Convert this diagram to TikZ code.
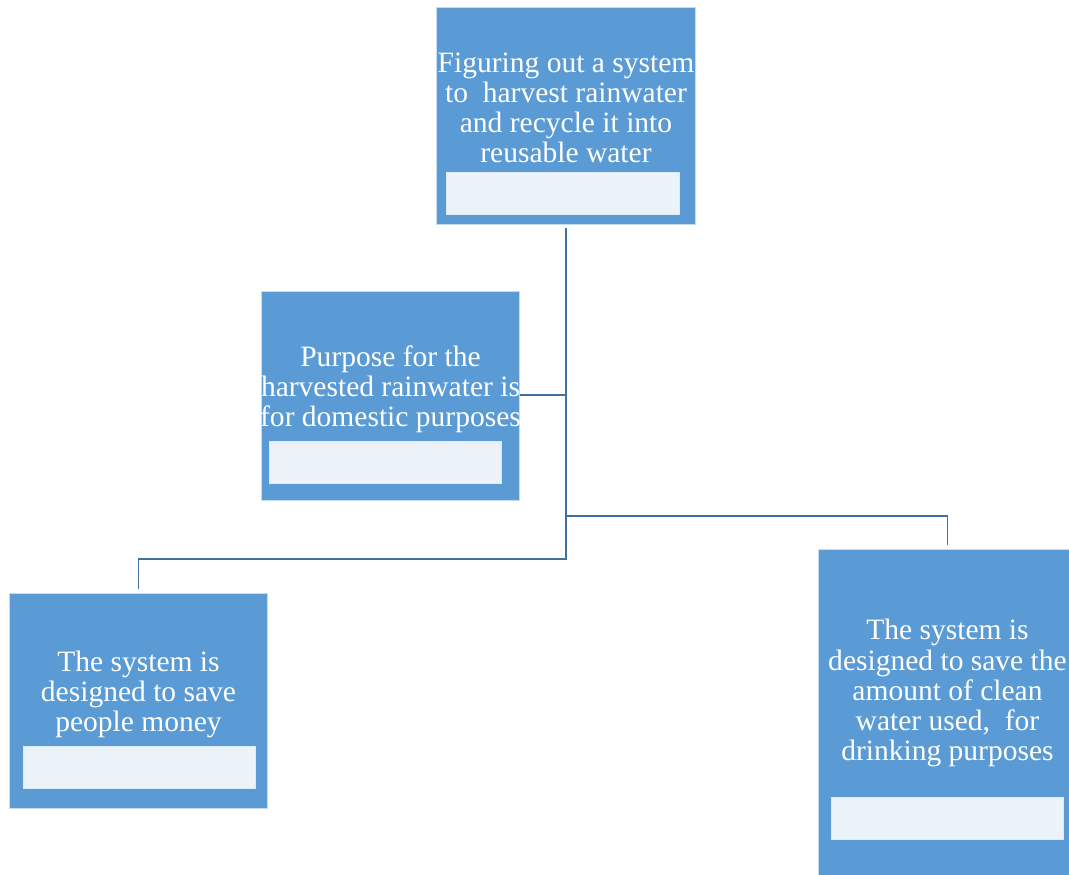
\documentclass[tikz,border=0pt]{standalone}
\usepackage{fontspec}
\setmainfont{Liberation Serif}
\definecolor{boxblue}{HTML}{5B9BD5}
\definecolor{noteblue}{HTML}{EBF2FA}
\definecolor{linkblue}{HTML}{41719C}
\begin{document}
\begin{tikzpicture}[x=0.02cm, y=-0.02cm]
% Estilos
\tikzstyle{box} = [rectangle, fill=boxblue, draw=white!65!boxblue, line width=0.5pt, minimum width=5.17cm, inner sep=0pt]
\tikzstyle{note} = [rectangle, fill=noteblue, draw=white!80!boxblue, line width=0.5pt, minimum width=4.65cm, minimum height=0.84cm, inner sep=0pt]
\tikzstyle{txt} = [text=white, align=center, inner sep=0pt, font=\fontsize{16.8}{17.1}\selectfont]
\tikzstyle{link} = [linkblue, line width=1.1pt]

\useasboundingbox (0,0) rectangle (1069,875);

% Cajas
\node[box, minimum height=4.34cm] (top) at (566,115.5) {};
\node[box, minimum height=4.18cm] (mid) at (390.5,395.5) {};
\node[box, minimum height=4.30cm] (money) at (138.5,700.5) {};
\node[box, minimum height=6.62cm] (clean) at (947.5,714.5) {};

% Textos
\node[txt] (toptext) at (566,108) {Figuring out a system\\to\ \ harvest rainwater\\and recycle it into\\reusable water};
\node[txt] (midtext) at (390.5,389) {Purpose for the\\harvested rainwater is\\for domestic purposes};
\node[txt] (moneytext) at (138.5,694) {The system is\\designed to save\\people money};
\node[txt] (cleantext) at (947.5,693) {The system is\\designed to save the\\amount of clean\\water used,\ \ for\\drinking purposes};

% Recuadros claros
\node[note] (topnote) at (563,193) {};
\node[note] (midnote) at (385.5,462) {};
\node[note] (moneynote) at (139.5,767) {};
\node[note] (cleannote) at (947.5,818.5) {};

% Conectores
\draw[link] ([yshift=-2pt]top.south) |- ([yshift=0.28pt]mid.east);
\draw[link] ([yshift=-2pt]top.south) -- (top.south |- 0,559) -| ([yshift=2pt]money.north);
\draw[link] (top.south |- 0,516) -| ([yshift=2pt]clean.north);
\end{tikzpicture}
\end{document}
